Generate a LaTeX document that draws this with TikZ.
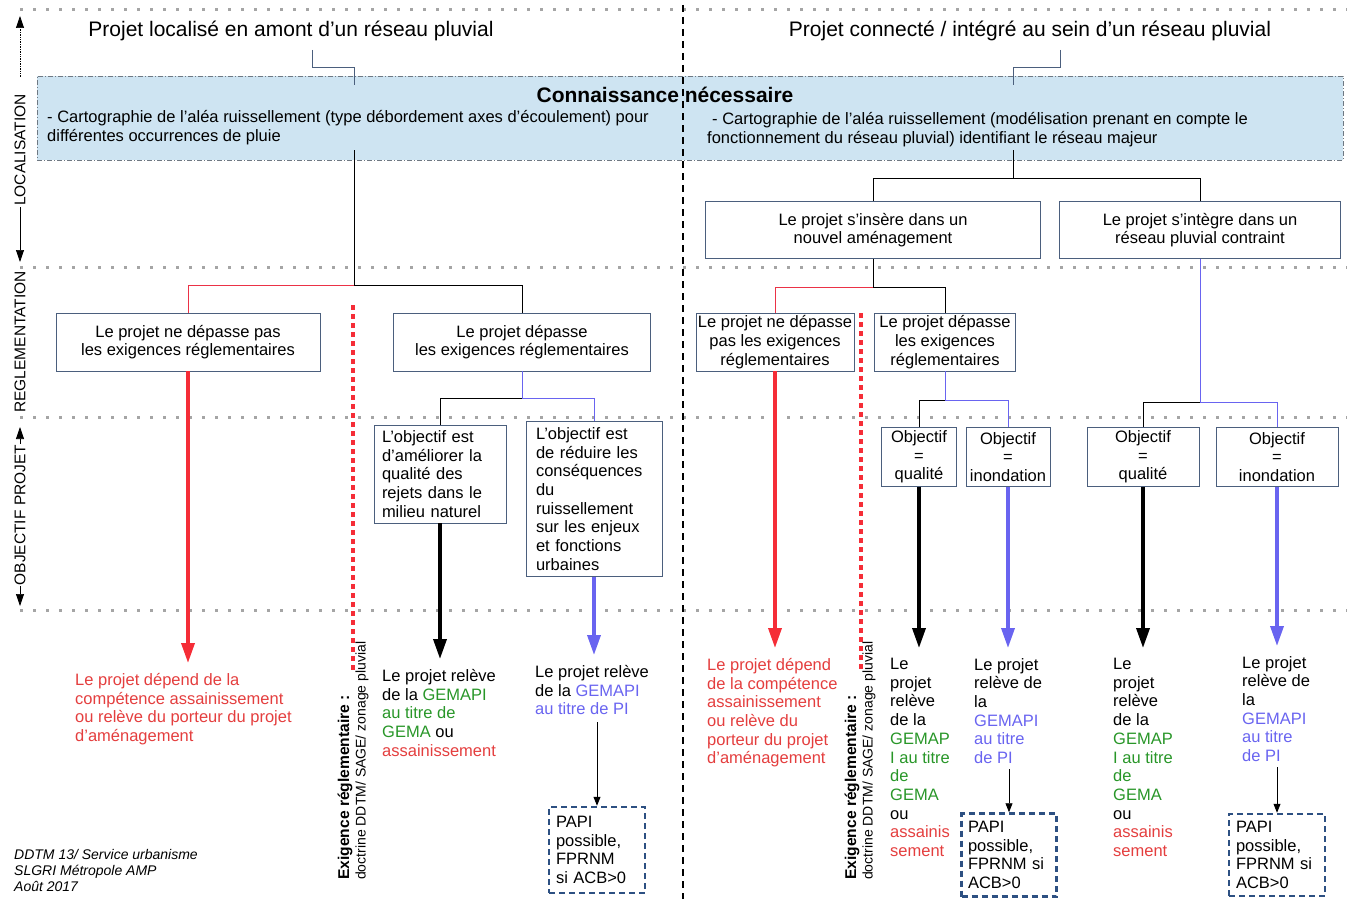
\documentclass[tikz,border=0pt]{standalone}
\usepackage{fontspec}
\setsansfont{Liberation Sans}
\usetikzlibrary{arrows.meta}

\begin{document}
\begin{tikzpicture}[x=1pt, y=-1pt, font=\sffamily\fontsize{16.5}{18.7}\selectfont,
    band/.style={bandgray, line width=3pt, dash pattern=on 3pt off 10pt},
    infobox/.style={fill=infofill, draw=infoline, line width=0.7pt, dash pattern=on 5pt off 2pt on 1pt off 2pt},
    regbox/.style={draw=boxline, line width=0.8pt, fill=white, align=center, inner xsep=1pt, inner ysep=2pt},
    objbox/.style={regbox, align=left, inner xsep=8pt},
    papibox/.style={draw=papiblue, line width=2.5pt, dash pattern=on 6pt off 4pt, align=left, text width=82pt, inner xsep=6pt, inner ysep=3pt},
    outtext/.style={anchor=north west, align=left, inner sep=0pt},
    axislabel/.style={rotate=90, font=\sffamily\fontsize{15.5}{16}\selectfont, inner sep=1pt},
    axisarrow/.style={line width=0.7pt, -{Triangle[length=12pt,width=8pt]}},
    thinline/.style={line width=0.8pt},
    redlink/.style={thinline, linkred},
    bluelink/.style={thinline, piblue},
    bigarrow/.style={line width=3.5pt, -{Triangle[length=20pt,width=13pt]}, shorten >=10pt},
    smallarrow/.style={line width=0.8pt, -{Triangle[length=9pt,width=7pt]}},
    reddots/.style={regred, line width=3.5pt, dash pattern=on 5pt off 4pt}]
    % Define colors
    \definecolor{bandgray}{RGB}{165,165,165}
    \definecolor{boxline}{RGB}{75,95,125}
    \definecolor{infofill}{RGB}{206,228,242}
    \definecolor{infoline}{RGB}{110,120,130}
    \definecolor{regred}{RGB}{245,45,55}
    \definecolor{linkred}{RGB}{235,50,70}
    \definecolor{textred}{RGB}{228,62,62}
    \definecolor{piblue}{RGB}{105,100,240}
    \definecolor{gemagreen}{RGB}{40,150,40}
    \definecolor{papiblue}{RGB}{45,80,130}

    \useasboundingbox (0,0) rectangle (1347,899);

    % Band separators
    \foreach \y in {10,267,417,610}
        \draw[band] (20,\y) -- (1347,\y);

    % Left axis
    \node[axislabel] (loc) at (20,150) {LOCALISATION};
    \draw[axisarrow, densely dotted] (loc.east) ++(0,-16) -- (20,16);
    \draw[axisarrow] (loc.west) -- (20,262);
    \node[axislabel] (regl) at (20,342) {REGLEMENTATION};
    \node[axislabel] (obj) at (20,515) {OBJECTIF PROJET};
    \draw[axisarrow] (obj.east) -- (20,427);
    \draw[axisarrow] (obj.west) -- (20,606);

    % Titles
    \node (titleL) at (291,31) {\fontsize{21}{24}\selectfont Projet localisé en amont d'un réseau pluvial};
    \node (titleR) at (1030,31) {\fontsize{21}{24}\selectfont Projet connecté / intégré au sein d'un réseau pluvial};

    % Knowledge box
    \node[infobox, minimum width=1306pt, minimum height=84pt] (know) at (690,118) {};
    \node[font=\sffamily\bfseries\fontsize{21}{24}\selectfont] (knowtitle) at (665,95) {Connaissance nécessaire};
    \node[outtext] (knowL) at (47,110) {- Cartographie de l'aléa ruissellement (type débordement axes d'écoulement) pour\\différentes occurrences de pluie};
    \node[outtext] (knowR) at (707,112) {\hspace*{5pt}- Cartographie de l'aléa ruissellement (modélisation prenant en compte le\\fonctionnement du réseau pluvial) identifiant le réseau majeur};

    % Middle split
    \draw[line width=2.5pt, dash pattern=on 7pt off 5pt] (683,5) -- (683,899);

    % Title connectors
    \coordinate (tL) at (312,50);
    \coordinate (tR) at (1060,50);
    \draw[thinline, boxline] (tL) -- (312,67) -| (354,85);
    \draw[thinline, boxline] (tR) -- (1060,67) -| (1013,85);

    % Left tree
    \coordinate (kL) at (354,150);
    \coordinate (jL) at (354,285);
    \node[regbox, minimum width=264pt, minimum height=58pt] (nopassL) at (188,342) {Le projet ne dépasse pas\\les exigences réglementaires};
    \node[regbox, minimum width=257pt, minimum height=58pt] (passL) at (522,342) {Le projet dépasse\\les exigences réglementaires};
    \draw[thinline] (kL) -- (jL);
    \draw[redlink] (jL) -| (nopassL.north);
    \draw[thinline] (jL) -| (passL.north);

    \coordinate (jL2) at (522,398);
    \node[objbox, text width=116pt, minimum height=98pt] (qualL) at (440,474) {L'objectif est\\d'améliorer la\\qualité des\\rejets dans le\\milieu naturel};
    \node[objbox, text width=116pt, inner xsep=10pt, minimum height=155pt] (floodL) at (594,499) {L'objectif est\\de réduire les\\conséquences\\du\\ruissellement\\sur les enjeux\\et fonctions\\urbaines};
    \draw[bluelink] (passL.south) -- (jL2);
    \draw[thinline] (jL2) -| (qualL.north);
    \draw[bluelink] (jL2) -| (floodL.north);

    % Left outcomes
    \node[outtext, textred] (depL) at (75,673) {Le projet dépend de la\\compétence assainissement\\ou relève du porteur du projet\\d'aménagement};
    \node[outtext] (gemaL) at (382,669) {Le projet relève\\de la \textcolor{gemagreen}{GEMAPI}\\\textcolor{gemagreen}{au titre de}\\\textcolor{gemagreen}{GEMA} ou\\\textcolor{textred}{assainissement}};
    \node[outtext] (piL) at (535,665) {Le projet relève\\de la \textcolor{piblue}{GEMAPI}\\\textcolor{piblue}{au titre de PI}};
    \node[papibox, minimum width=96pt, minimum height=86pt] (papiL) at (597,850) {PAPI\\possible,\\FPRNM\\si ACB>0};
    \draw[bigarrow, regred] (nopassL.south) -- (nopassL.south |- depL.north);
    \draw[bigarrow, black] (qualL.south) -- (qualL.south |- gemaL.north);
    \draw[bigarrow, piblue] (floodL.south) -- (floodL.south |- piL.north);
    \draw[smallarrow] (papiL.north |- piL.south) ++(0,7) -- (papiL.north);

    % Left rule
    \draw[reddots] (353,305) -- (353,672);
    \node[rotate=90, anchor=west, inner sep=0pt, font=\sffamily\bfseries\fontsize{15.6}{18}\selectfont] (ruleL) at (345,880) {Exigence réglementaire :};
    \node[rotate=90, anchor=west, inner sep=0pt, font=\sffamily\fontsize{14}{16}\selectfont] (docL) at (362,880) {doctrine DDTM/ SAGE/ zonage pluvial};

    % Right tree
    \coordinate (kR) at (1013,150);
    \coordinate (jR) at (1013,178);
    \node[regbox, minimum width=335pt, minimum height=57pt] (newdev) at (873,230) {Le projet s'insère dans un\\nouvel aménagement};
    \node[regbox, minimum width=281pt, minimum height=57pt] (network) at (1200,230) {Le projet s'intègre dans un\\réseau pluvial contraint};
    \draw[thinline] (kR) -- (jR);
    \draw[thinline] (jR) -| (newdev.north);
    \draw[thinline] (jR) -| (network.north);

    \coordinate (jR2) at (873,287);
    \node[regbox, minimum width=158pt, minimum height=58pt] (nopassR) at (775,342) {Le projet ne dépasse\\pas les exigences\\réglementaires};
    \node[regbox, minimum width=141pt, minimum height=58pt] (passR) at (945,342) {Le projet dépasse\\les exigences\\réglementaires};
    \draw[thinline] (newdev.south) -- (jR2);
    \draw[redlink] (jR2) -| (nopassR.north);
    \draw[thinline] (jR2) -| (passR.north);

    \coordinate (jR3) at (945,400);
    \node[regbox, minimum width=75pt, minimum height=59pt] (qualR1) at (919,457) {Objectif\\=\\qualité};
    \node[regbox, minimum width=84pt, minimum height=59pt] (floodR1) at (1008,457) {Objectif\\=\\inondation};
    \draw[bluelink] (passR.south) -- (jR3);
    \draw[thinline] (jR3) -| (qualR1.north);
    \draw[bluelink] (jR3) -| (floodR1.north);

    \coordinate (jR4) at (1200,402);
    \node[regbox, minimum width=112pt, minimum height=59pt] (qualR2) at (1143,457) {Objectif\\=\\qualité};
    \node[regbox, minimum width=122pt, minimum height=59pt] (floodR2) at (1277,457) {Objectif\\=\\inondation};
    \draw[bluelink] (network.south) -- (jR4);
    \draw[thinline] (jR4) -| (qualR2.north);
    \draw[bluelink] (jR4) -| (floodR2.north);

    % Right outcomes
    \node[outtext, textred] (depR) at (707,658) {Le projet dépend\\de la compétence\\assainissement\\ou relève du\\porteur du projet\\d'aménagement};
    \node[outtext] (gemaR1) at (890,658) {Le\\projet\\relève\\de la\\\textcolor{gemagreen}{GEMAP}\\\textcolor{gemagreen}{I au titre}\\\textcolor{gemagreen}{de}\\\textcolor{gemagreen}{GEMA}\\ou\\\textcolor{textred}{assainis}\\\textcolor{textred}{sement}};
    \node[outtext] (piR1) at (974,658) {Le projet\\relève de\\la\\\textcolor{piblue}{GEMAPI}\\\textcolor{piblue}{au titre}\\\textcolor{piblue}{de PI}};
    \node[papibox, minimum width=95pt, minimum height=83pt] (papiR1) at (1009,855) {PAPI\\possible,\\FPRNM si\\ACB>0};
    \node[outtext] (gemaR2) at (1113,658) {Le\\projet\\relève\\de la\\\textcolor{gemagreen}{GEMAP}\\\textcolor{gemagreen}{I au titre}\\\textcolor{gemagreen}{de}\\\textcolor{gemagreen}{GEMA}\\ou\\\textcolor{textred}{assainis}\\\textcolor{textred}{sement}};
    \node[outtext] (piR2) at (1242,656) {Le projet\\relève de\\la\\\textcolor{piblue}{GEMAPI}\\\textcolor{piblue}{au titre}\\\textcolor{piblue}{de PI}};
    \node[papibox, minimum width=96pt, minimum height=82pt] (papiR2) at (1277,855) {PAPI\\possible,\\FPRNM si\\ACB>0};
    \draw[bigarrow, regred] (nopassR.south) -- (nopassR.south |- depR.north);
    \draw[bigarrow, black] (qualR1.south) -- (qualR1.south |- gemaR1.north);
    \draw[bigarrow, piblue] (floodR1.south) -- (floodR1.south |- piR1.north);
    \draw[bigarrow, black] (qualR2.south) -- (qualR2.south |- gemaR2.north);
    \draw[bigarrow, piblue] (floodR2.south) -- (floodR2.south |- piR2.north);
    \draw[smallarrow] (papiR1.north |- piR1.south) ++(0,5) -- (papiR1.north);
    \draw[smallarrow] (papiR2.north |- piR2.south) ++(0,5) -- (papiR2.north);

    % Right rule
    \draw[reddots] (861,313) -- (861,670);
    \node[rotate=90, anchor=west, inner sep=0pt, font=\sffamily\bfseries\fontsize{15.6}{18}\selectfont] (ruleR) at (852,880) {Exigence réglementaire :};
    \node[rotate=90, anchor=west, inner sep=0pt, font=\sffamily\fontsize{14}{16}\selectfont] (docR) at (869,880) {doctrine DDTM/ SAGE/ zonage pluvial};

    % Credits
    \node[outtext, font=\sffamily\itshape\fontsize{14}{16}\selectfont] (credit) at (14,849) {DDTM 13/ Service urbanisme\\SLGRI Métropole AMP\\Août 2017};
\end{tikzpicture}
\end{document}
